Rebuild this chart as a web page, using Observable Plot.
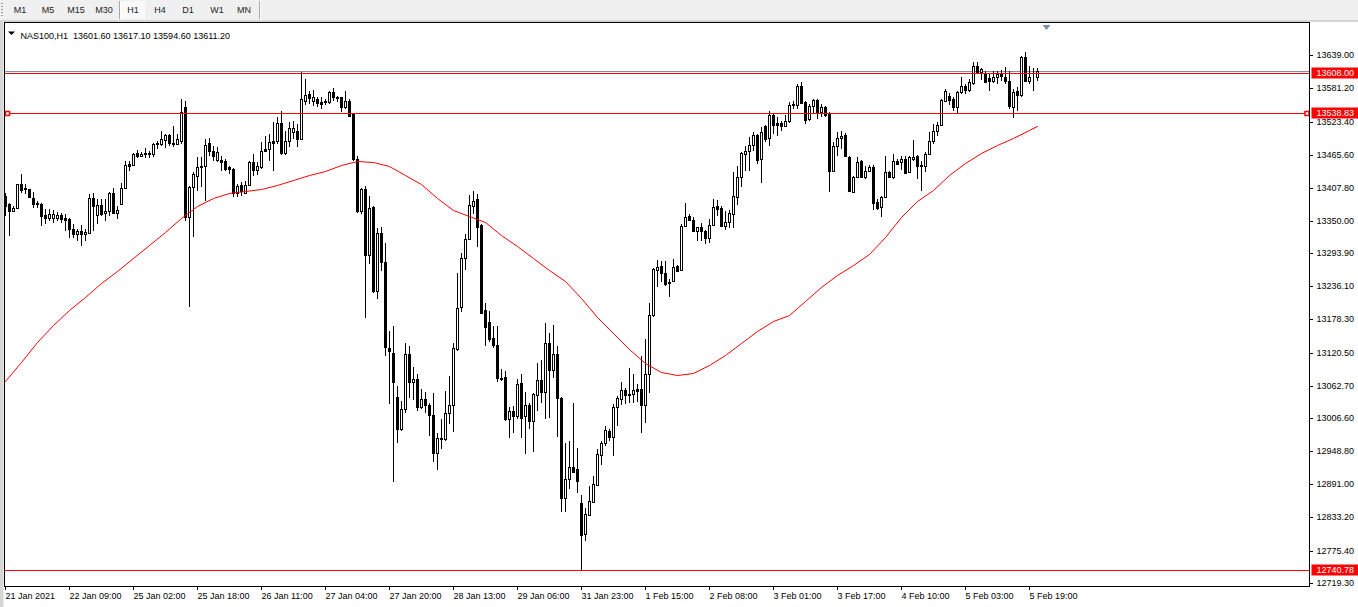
<!DOCTYPE html>
<html>
<head>
<meta charset="utf-8">
<script src="https://cdn.jsdelivr.net/npm/d3@7"></script>
<script src="https://cdn.jsdelivr.net/npm/@observablehq/plot@0.6"></script>
<style>
html, body { margin: 0; padding: 0; background: #fff; width: 1358px; height: 607px; overflow: hidden; font-family: "Liberation Sans", Arial, sans-serif; }
#toolbar { position: relative; height: 20px; width: 1358px; background: #f0f0f0; }
#toolbar span { position: absolute; top: 0; line-height: 20px; font-size: 9px; color: #222; transform: translateX(-50%); }
#toolbar .grip { position: absolute; left: 1px; top: 3px; width: 2px; height: 14px; background: repeating-linear-gradient(#9a9a9a 0 1px, transparent 1px 3px); }
#toolbar .sep { position: absolute; top: 1px; width: 1px; height: 18px; background: #a8a8a8; border-right: 1px solid #fff; }
#toolbar .pressed { position: absolute; top: 1px; height: 18px; background: #f9f9f9; }
#chart svg { display: block; }
</style>
</head>
<body>
<div id="toolbar">
  <div class="grip"></div>
  <div class="pressed" style="left:121px;width:24px"></div>
  <span style="left:20px">M1</span>
  <span style="left:48px">M5</span>
  <span style="left:76px">M15</span>
  <span style="left:104px">M30</span>
  <div class="sep" style="left:119px"></div>
  <span style="left:133px">H1</span>
  <span style="left:160px">H4</span>
  <span style="left:188px">D1</span>
  <span style="left:217px">W1</span>
  <span style="left:244px">MN</span>
  <div class="sep" style="left:259px"></div>
</div>
<div id="chart"></div>
<script>
// ---- data (NAS100, H1), bar index 0 = 21 Jan 2021 17:00 ----
const opens = [
13393.7,13379.1,13367.5,13373.3,13414.0,13407.0,13405.3,13390.8,13379.1,13379.1,
13360.5,13354.7,13355.9,13355.9,13360.5,13354.7,13353.0,13335.5,13326.8,13332.6,
13326.8,13329.7,13390.8,13360.5,13377.4,13364.6,13367.5,13398.3,13364.6,13380.3,
13408.2,13448.9,13447.2,13469.2,13463.4,13469.2,13469.2,13467.5,13486.1,13483.8,
13491.9,13499.5,13486.7,13484.9,13490.2,13548.3,13356.5,13408.8,13429.1,13443.7,
13446.6,13485.5,13471.6,13456.5,13456.5,13455.3,13443.7,13440.8,13398.3,13413.4,
13398.3,13413.4,13452.4,13439.6,13444.8,13475.6,13475.6,13489.0,13489.0,13520.4,
13468.1,13489.0,13504.7,13506.5,13493.1,13559.9,13571.6,13559.9,13562.8,13558.2,
13559.9,13558.2,13574.5,13565.8,13565.8,13548.3,13559.9,13536.7,13458.2,13367.5,
13405.3,13290.2,13375.0,13228.0,13328.6,13278.6,13129.1,13120.4,13043.7,12987.9,
13022.7,13117.5,13069.8,13075.0,13026.2,13040.2,13028.6,13011.1,12946.0,12972.2,
12969.3,13014.6,13028.6,13127.4,13200.6,13286.1,13318.1,13376.2,13387.8,13342.5,
13194.2,13174.5,13145.4,13133.2,13076.8,13078.6,13004.1,13018.7,13009.9,13068.1,
13009.9,13028.6,13001.2,13046.0,13072.7,13051.8,13137.9,13090.2,13117.5,13041.9,
12867.5,12899.5,12921.6,12918.1,12857.6,12803.6,12837.3,12860.0,12889.6,12941.9,
12962.3,12983.8,12973.3,13026.3,13040.2,13054.7,13046.0,13048.9,13056.5,13056.5,
13028.6,13082.6,13185.5,13264.6,13272.2,13258.8,13243.1,13246.0,13272.2,13264.6,
13341.9,13359.4,13351.8,13333.2,13340.2,13333.2,13320.4,13343.6,13376.8,13372.2,
13341.9,13347.7,13362.3,13391.3,13427.4,13466.9,13471.6,13483.2,13500.6,13458.2,
13516.3,13494.8,13535.5,13520.4,13520.4,13516.3,13525.0,13554.1,13552.9,13586.1,
13557.0,13527.9,13551.2,13561.1,13539.6,13548.3,13536.7,13437.8,13481.4,13494.8,
13500.6,13462.2,13400.1,13427.4,13454.1,13427.4,13436.7,13444.8,13382.6,13373.9,
13392.5,13434.9,13427.4,13455.3,13452.4,13458.2,13434.9,13458.2,13464.0,13448.3,
13445.4,13466.9,13490.2,13506.4,13518.1,13559.9,13568.7,13562.8,13549.5,13574.5,
13586.1,13578.5,13590.2,13621.0,13609.4,13607.6,13599.4,13593.7,13601.8,13607.6,
13601.8,13593.7,13549.5,13576.2,13570.4,13636.7,13593.7,13601.8,13601.6];
const highs = [
13399.5,13382.0,13376.2,13415.2,13431.4,13414.0,13406.5,13401.2,13384.9,13382.0,
13370.4,13370.4,13368.7,13366.3,13364.6,13361.7,13355.9,13344.2,13335.5,13342.5,
13335.5,13397.7,13399.5,13387.9,13387.9,13387.9,13401.2,13407.0,13376.2,13416.9,
13454.7,13454.7,13469.2,13473.3,13470.4,13477.9,13472.1,13486.7,13489.6,13507.0,
13501.2,13501.2,13515.8,13501.2,13562.8,13559.9,13411.7,13434.9,13461.1,13461.1,
13493.1,13494.8,13481.4,13478.5,13464.0,13458.2,13446.6,13442.5,13414.6,13417.5,
13420.4,13455.3,13466.9,13452.4,13487.3,13498.9,13501.8,13522.1,13532.0,13542.5,
13507.6,13522.1,13525.1,13519.2,13609.5,13597.7,13577.4,13578.5,13566.9,13565.8,
13562.8,13577.4,13582.0,13568.7,13566.9,13576.2,13562.8,13537.8,13463.4,13408.2,
13411.1,13393.7,13376.2,13338.4,13340.2,13312.3,13158.2,13166.9,13062.3,13036.1,
13136.7,13132.0,13096.0,13082.6,13057.6,13051.8,13032.1,13049.5,12980.9,13005.3,
13053.6,13079.7,13137.8,13258.8,13294.8,13326.8,13394.8,13402.4,13396.6,13344.2,
13207.6,13193.1,13166.9,13166.9,13092.5,13088.4,13026.2,13027.4,13073.9,13082.6,
13051.8,13033.2,13050.6,13103.0,13107.6,13172.7,13155.3,13168.1,13132.1,13043.7,
12962.3,12966.3,13032.1,12954.7,12871.6,12850.1,12887.9,12905.3,12951.8,12966.3,
12992.5,12986.7,13030.3,13044.8,13069.3,13059.4,13093.1,13082.6,13065.2,13114.6,
13143.7,13207.6,13268.1,13282.0,13280.9,13280.9,13248.9,13283.8,13273.9,13344.8,
13380.9,13362.3,13356.5,13340.2,13346.0,13334.4,13353.5,13388.4,13386.7,13376.8,
13368.1,13369.2,13434.9,13446.6,13469.8,13481.4,13497.1,13504.7,13501.8,13513.4,
13518.1,13542.5,13536.7,13530.9,13523.9,13535.5,13557.0,13558.8,13589.0,13591.9,
13559.9,13554.1,13562.8,13562.8,13554.1,13551.2,13539.6,13487.3,13504.7,13506.4,
13503.0,13464.0,13429.1,13462.2,13456.4,13446.6,13448.3,13448.3,13388.4,13394.2,
13464.0,13437.8,13466.9,13458.2,13464.0,13464.0,13464.0,13491.3,13465.8,13455.3,
13469.8,13504.7,13519.2,13522.1,13562.8,13580.3,13572.7,13565.7,13577.4,13601.8,
13589.0,13597.7,13626.8,13626.8,13616.9,13612.2,13606.4,13611.1,13611.1,13613.4,
13618.1,13611.1,13580.3,13583.2,13638.4,13644.2,13621.0,13616.9,13617.1];
const lows = [
13358.8,13323.9,13366.3,13372.2,13399.5,13397.7,13390.8,13373.3,13373.3,13341.3,
13345.4,13350.1,13347.2,13350.1,13347.2,13332.6,13321.0,13319.8,13315.2,13306.5,
13315.2,13327.9,13332.6,13344.2,13358.8,13350.1,13358.8,13362.9,13353.0,13379.1,
13405.3,13437.3,13446.0,13460.5,13462.9,13460.5,13460.5,13461.7,13475.1,13480.9,
13477.9,13480.9,13479.1,13483.8,13484.4,13350.6,13199.5,13321.6,13402.9,13408.8,
13385.5,13464.0,13455.3,13452.4,13437.8,13437.8,13432.0,13391.3,13391.3,13394.2,
13397.2,13411.7,13429.1,13430.9,13440.8,13469.8,13455.3,13437.8,13484.4,13465.8,
13465.8,13478.5,13493.1,13479.7,13493.1,13553.0,13554.1,13551.2,13548.3,13545.4,
13553.0,13554.1,13559.9,13557.0,13539.6,13545.4,13532.0,13455.3,13364.6,13361.7,
13181.5,13274.5,13225.1,13213.4,13262.8,13114.6,13030.3,12894.8,12963.4,12983.8,
13015.8,13041.9,13037.9,13018.7,13021.6,13015.8,12975.1,12929.7,12915.8,12951.8,
12966.4,12995.4,12982.0,13123.3,13191.3,13264.6,13316.9,13361.7,13305.3,13187.3,
13132.0,13139.0,13129.1,13069.3,13071.0,13001.2,12972.2,12979.7,13005.3,12972.2,
12943.1,12986.7,12947.2,13018.7,13033.2,13004.1,13007.0,13076.8,12973.9,12842.5,
12842.5,12882.0,12911.1,12875.1,12740.78,12792.0,12835.6,12858.8,12887.9,12923.9,
12957.6,12966.3,12940.2,12992.5,13028.6,13030.3,13032.1,13033.2,13034.4,12979.7,
12998.3,13050.6,13183.0,13235.5,13243.1,13237.3,13216.9,13243.1,13262.3,13263.4,
13339.0,13350.6,13332.0,13314.6,13315.8,13310.0,13311.1,13341.9,13359.4,13339.0,
13334.4,13337.8,13337.8,13378.6,13408.8,13437.8,13437.8,13471.6,13449.5,13415.7,
13487.3,13481.4,13501.8,13498.9,13507.6,13513.4,13520.4,13545.4,13545.4,13554.1,
13519.2,13525.0,13537.8,13528.0,13532.0,13530.9,13400.1,13436.7,13464.0,13475.6,
13462.2,13400.1,13398.9,13426.2,13426.2,13423.3,13434.9,13369.2,13369.2,13356.5,
13391.3,13425.0,13423.3,13448.3,13439.0,13432.0,13433.2,13454.1,13423.3,13403.0,
13434.9,13465.8,13484.4,13498.9,13516.3,13557.0,13553.0,13542.5,13536.7,13571.6,
13571.6,13574.5,13587.8,13606.4,13595.9,13590.2,13576.2,13590.2,13589.0,13594.8,
13589.0,13545.4,13529.7,13542.5,13565.7,13591.9,13589.0,13576.2,13594.6];
const closes = [
13376.2,13367.5,13373.3,13414.0,13403.5,13405.3,13391.9,13380.3,13382.0,13358.8,
13355.9,13361.7,13361.7,13360.0,13353.0,13351.2,13335.5,13326.8,13332.6,13326.8,
13330.9,13390.8,13376.2,13377.4,13361.7,13367.5,13398.3,13364.6,13368.7,13408.2,
13447.2,13446.0,13467.5,13463.4,13467.5,13466.3,13466.3,13484.9,13483.8,13492.5,
13499.5,13486.7,13484.9,13492.5,13539.6,13356.5,13408.8,13432.0,13443.7,13446.6,
13483.2,13472.7,13464.0,13469.8,13452.4,13440.8,13440.8,13398.3,13411.7,13402.9,
13413.4,13452.4,13439.6,13445.4,13472.7,13471.6,13487.3,13485.5,13520.4,13468.1,
13489.0,13511.7,13511.7,13493.1,13562.8,13570.4,13564.6,13566.9,13555.9,13554.1,
13557.0,13574.5,13565.8,13564.6,13548.3,13559.9,13533.8,13458.2,13367.5,13405.3,
13290.2,13373.3,13228.0,13328.6,13278.6,13130.9,13123.3,13069.8,12987.9,13022.7,
13117.5,13069.8,13073.9,13026.2,13040.2,13028.6,13011.1,12946.0,12972.2,12969.3,
13014.6,13028.6,13129.1,13198.9,13286.1,13318.1,13377.4,13384.9,13340.2,13189.0,
13165.8,13144.8,13133.2,13076.2,13075.0,13005.3,13018.7,13009.9,13065.2,13007.0,
13028.6,13001.2,13047.7,13072.7,13051.8,13137.9,13090.2,13117.5,13041.9,12867.5,
12899.5,12921.6,12912.3,12896.6,12801.8,12838.5,12861.1,12890.8,12943.1,12963.4,
12985.0,12973.9,13026.3,13041.9,13054.7,13046.0,13048.9,13054.7,13053.6,13028.6,
13082.6,13185.5,13266.3,13270.4,13258.8,13240.2,13241.3,13270.4,13263.4,13341.9,
13357.6,13351.8,13333.2,13339.0,13333.2,13320.4,13343.6,13375.0,13371.0,13341.9,
13347.7,13363.4,13394.2,13427.4,13468.1,13471.6,13483.2,13500.6,13456.5,13504.7,
13493.1,13535.5,13518.1,13518.1,13516.3,13525.0,13552.9,13552.4,13586.1,13555.3,
13526.2,13551.2,13561.1,13537.8,13548.3,13535.5,13437.8,13481.4,13494.8,13498.9,
13464.0,13401.8,13427.4,13452.4,13427.4,13436.7,13444.8,13380.9,13372.7,13392.5,
13434.9,13427.4,13455.3,13449.5,13458.2,13433.2,13461.1,13462.2,13446.6,13445.4,
13466.9,13490.2,13507.6,13518.1,13561.1,13576.2,13561.1,13548.3,13574.5,13586.1,
13578.5,13591.9,13621.0,13609.4,13615.2,13591.9,13593.7,13601.8,13606.4,13603.5,
13593.7,13551.2,13574.5,13570.4,13636.7,13594.8,13601.8,13600.6,13611.2];

// moving average (red), read at every 4th bar
const maIndex = [0,4,8,12,16,20,24,28,32,36,40,44,48,52,56,60,64,68,72,76,80,84,88,92,96,100,
104,108,112,116,120,124,128,132,136,140,144,148,152,156,160,164,168,172,176,180,184,188,192,196,
200,204,208,212,216,220,224,228,232,236,240,244,248,252,256,258];
const maValues = [13070.4,13103.6,13138.4,13168.1,13194.3,13216.9,13241.3,13262.3,13284.9,13307.6,
13330.3,13354.7,13375.6,13389.6,13399.2,13401.8,13406.2,13412.3,13421.0,13429.7,13437.6,13447.1,
13454.5,13453.3,13446.3,13429.7,13414.9,13389.6,13368.7,13359.1,13347.7,13325.1,13305.9,13284.9,
13264.0,13244.8,13215.2,13182.0,13154.1,13127.1,13101.8,13086.1,13080.9,13085.2,13098.3,13115.8,
13136.7,13157.6,13175.1,13185.5,13210.0,13234.4,13255.3,13272.7,13291.9,13321.6,13356.5,13384.4,
13403.5,13429.7,13451.5,13468.1,13482.9,13495.1,13509.1,13515.2];

// axes
const dateLabels = ["21 Jan 2021","22 Jan 09:00","25 Jan 02:00","25 Jan 18:00","26 Jan 11:00",
"27 Jan 04:00","27 Jan 20:00","28 Jan 13:00","29 Jan 06:00","31 Jan 23:00","1 Feb 15:00",
"2 Feb 08:00","3 Feb 01:00","3 Feb 17:00","4 Feb 10:00","5 Feb 03:00","5 Feb 19:00"];
const labelBars = [0,16,32,48,64,80,96,112,128,144,160,176,192,208,224,240,256];
const yTicks = [13639.00,13581.20,13523.40,13465.60,13407.80,13350.00,13293.90,13236.10,
13178.30,13120.50,13062.70,13006.60,12948.80,12891.00,12833.20,12775.40,12719.30];

// horizontal lines
const levels = [13608.00, 13538.83, 12740.78];
const selectedLevel = [13538.83];
const bidPrice = [13611.20];
const header = ["NAS100,H1\u00a0\u00a013601.60 13617.10 13594.60 13611.20"];

const bars = opens.map((o, i) => ({i, o, h: highs[i], l: lows[i], c: closes[i]}));
const up = bars.filter(d => d.c >= d.o);
const down = bars.filter(d => d.c < d.o);
const ma = maIndex.map((i, k) => ({i, v: maValues[k]}));

const bodyOpts = {x1: d => d.i - 0.25, x2: d => d.i + 0.25, y1: "o", y2: "c", stroke: "black", dx: 0.5, dy: 0.5};

const chart = Plot.plot({
  width: 1358, height: 587,
  marginLeft: 4, marginRight: 49, marginTop: 2, marginBottom: 21,
  style: {background: "white", fontFamily: "'Liberation Sans', Arial, sans-serif", fontSize: "9px", color: "black"},
  x: {domain: [0, 258], range: [5, 1037], label: null},
  y: {domain: [12719.3, 13639], range: [562.8, 35.2], round: true, label: null},
  marks: [
    Plot.ruleY(bidPrice, {y: d => d, stroke: "#7f8fa3"}),
    Plot.ruleX(bars, {x: "i", y1: "l", y2: "h", stroke: "black"}),
    Plot.rect(up, {...bodyOpts, fill: "white"}),
    Plot.rect(down, {...bodyOpts, fill: "black"}),
    Plot.ruleY(levels, {y: d => d, stroke: "red"}),
    Plot.line(ma, {x: "i", y: "v", stroke: "red", strokeWidth: 1}),
    Plot.dot(selectedLevel, {y: d => d, frameAnchor: "left", dx: 3, symbol: "square", r: 2.3, stroke: "red", fill: "white"}),
    Plot.dot(selectedLevel, {y: d => d, frameAnchor: "right", dx: -2.5, symbol: "square", r: 2.3, stroke: "red", fill: "white"}),
    Plot.frame({stroke: "black"}),
    Plot.axisY(yTicks, {anchor: "right", tickSize: 3, tickPadding: 4, tickFormat: d => d.toFixed(2), fontSize: 9, label: null}),
    Plot.axisX(labelBars, {anchor: "bottom", tickSize: 4, tickPadding: 2, tickFormat: d => dateLabels[labelBars.indexOf(d)], textAnchor: "start", fontSize: 9, label: null}),
    Plot.text(levels, {y: d => d, text: d => d.toFixed(2), frameAnchor: "right", dx: 7, textAnchor: "start", fill: "white", fontSize: 9}),
    Plot.text(header, {text: d => d, frameAnchor: "top-left", dx: 16, dy: 10, textAnchor: "start", fontSize: 9, fill: "black"})
  ]
});
document.getElementById("chart").append(chart);

const svg = d3.select(chart);
// red price boxes behind level labels (texts are placed by a transform)
const levelStrings = new Set(levels.map(d => d.toFixed(2)));
svg.selectAll("text").each(function () {
  if (!levelStrings.has(this.textContent)) return;
  const b = this.getBBox();
  let e = 0, f = 0;
  const tl = this.transform && this.transform.baseVal;
  if (tl && tl.numberOfItems) { const m = tl.consolidate().matrix; e = m.e; f = m.f; }
  const ax = (this.getAttribute("x") ? +this.getAttribute("x") : 0);
  const cx = e + b.x, cy = f + b.y + b.height / 2;
  const r = document.createElementNS("http://www.w3.org/2000/svg", "rect");
  r.setAttribute("x", Math.round(cx) - 5);
  r.setAttribute("y", Math.round(cy - 5.5));
  r.setAttribute("width", 60);
  r.setAttribute("height", 11);
  r.setAttribute("fill", "red");
  this.parentNode.insertBefore(r, this);
});
// window edges
svg.append("rect").attr("x", 0).attr("y", 0).attr("width", 3.5).attr("height", 587).attr("fill", "#d6d6d6");
svg.append("rect").attr("x", 0).attr("y", 0).attr("width", 1358).attr("height", 2).attr("fill", "#d6d6d6");
// header drop-down triangle and chart-shift marker
svg.append("path").attr("d", "M8,11.5 L15,11.5 L11.5,15 Z").attr("fill", "black");
svg.append("path").attr("d", "M1042.5,5 L1050.5,5 L1046.5,10 Z").attr("fill", "#7f8fa3");
</script>
</body>
</html>
